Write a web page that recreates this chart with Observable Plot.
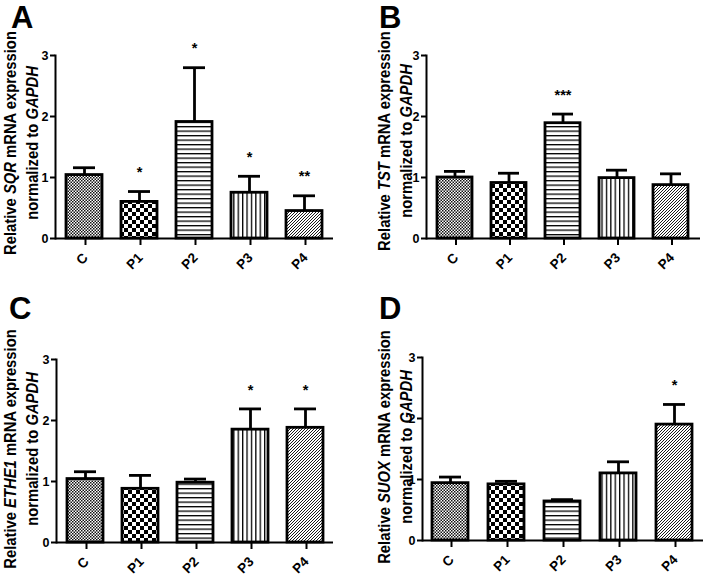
<!DOCTYPE html>
<html>
<head>
<meta charset="utf-8">
<script src="https://cdn.jsdelivr.net/npm/d3@7"></script>
<script src="https://cdn.jsdelivr.net/npm/@observablehq/plot@0.6"></script>
<style>
  html, body { margin: 0; padding: 0; background: white; }
  #wrap { position: relative; width: 709px; height: 578px; background: white; overflow: hidden;
          font-family: "Liberation Sans", Arial, Helvetica, sans-serif; color: black; }
  .panel { position: absolute; }
  .letter { position: absolute; font-size: 31px; font-weight: bold; line-height: 1; }
  .ylab { position: absolute; width: 290px; height: 44px; font-size: 17px; font-weight: bold;
          line-height: 22px; text-align: center; transform: rotate(-90deg) scaleX(0.87); transform-origin: 50% 50%; white-space: nowrap; }
</style>
</head>
<body>
<svg width="0" height="0" style="position:absolute">
  <defs>
    <pattern id="patC" width="3" height="3" patternUnits="userSpaceOnUse">
      <rect width="3" height="3" fill="#fff"/>
      <rect x="0" y="0" width="1.5" height="1.5" fill="#111"/>
      <rect x="1.5" y="1.5" width="1.5" height="1.5" fill="#111"/>
    </pattern>
    <pattern id="patP1" width="8" height="8" patternUnits="userSpaceOnUse">
      <rect width="8" height="8" fill="#fff"/>
      <rect x="0" y="0" width="4" height="4" fill="#000"/>
      <rect x="4" y="4" width="4" height="4" fill="#000"/>
    </pattern>
    <pattern id="patP2" width="10" height="4.5" patternUnits="userSpaceOnUse">
      <rect width="10" height="4.5" fill="#fff"/>
      <rect x="0" y="0" width="10" height="1.3" fill="#000"/>
    </pattern>
    <pattern id="patP3" width="4.4" height="10" patternUnits="userSpaceOnUse">
      <rect width="4.4" height="10" fill="#fff"/>
      <rect x="0" y="0" width="1.3" height="10" fill="#000"/>
    </pattern>
    <pattern id="patP4" width="3" height="3" patternUnits="userSpaceOnUse">
      <rect width="3" height="3" fill="#fff"/>
      <path d="M-1,1 L1,-1 M0,3 L3,0 M2,4 L4,2" stroke="#000" stroke-width="0.9"/>
    </pattern>
  </defs>
</svg>
<div id="wrap"></div>
<script>
// ---- data ----
const categories = ["C", "P1", "P2", "P3", "P4"];

// Panel A: SQR
const sqrMean  = [1.04, 0.60, 1.91, 0.75, 0.45];
const sqrUpper = [1.16, 0.77, 2.80, 1.02, 0.70];
const sqrStars = ["", "*", "*", "*", "**"];

// Panel B: TST
const tstMean  = [1.00, 0.91, 1.89, 0.99, 0.875];
const tstUpper = [1.10, 1.07, 2.04, 1.12, 1.06];
const tstStars = ["", "", "***", "", ""];

// Panel C: ETHE1
const etheMean  = [1.04, 0.88, 0.98, 1.85, 1.88];
const etheUpper = [1.16, 1.10, 1.04, 2.19, 2.19];
const etheStars = ["", "", "", "*", "*"];

// Panel D: SUOX
const suoxMean  = [0.94, 0.92, 0.64, 1.10, 1.90];
const suoxUpper = [1.04, 0.97, 0.67, 1.29, 2.23];
const suoxStars = ["", "", "", "", "*"];

const yTicks = [0, 1, 2, 3];
const panelLetters = ["A", "B", "C", "D"];
const genes = ["SQR", "TST", "ETHE1", "SUOX"];
const reference = "GAPDH";

// ---- styles ----
const patterns = ["url(#patC)", "url(#patP1)", "url(#patP2)", "url(#patP3)", "url(#patP4)"];

const panels = [
  {mean: sqrMean,  upper: sqrUpper,  stars: sqrStars,  left: 0,   top: 0,   w: 354, h: 290, mL: 55, mR: 21, mT: 55, mB: 52,
   letter: {x: 11, y: 2},   ylab: {cx: 22, cy: 143}},
  {mean: tstMean,  upper: tstUpper,  stars: tstStars,  left: 355, top: 0,   w: 354, h: 290, mL: 71, mR: 9,  mT: 55, mB: 52,
   letter: {x: 379, y: 2},  ylab: {cx: 396, cy: 141}},
  {mean: etheMean, upper: etheUpper, stars: etheStars, left: 0,   top: 290, w: 354, h: 288, mL: 56, mR: 21, mT: 69, mB: 36,
   letter: {x: 9, y: 293},  ylab: {cx: 22, cy: 449}},
  {mean: suoxMean, upper: suoxUpper, stars: suoxStars, left: 355, top: 290, w: 354, h: 288, mL: 67, mR: 6,  mT: 67, mB: 38,
   letter: {x: 379, y: 293}, ylab: {cx: 396, cy: 447}}
];

const wrap = document.getElementById("wrap");

panels.forEach((p, k) => {
  const data = categories.map((c, i) => ({cat: c, mean: p.mean[i], upper: p.upper[i], star: p.stars[i]}));
  const chart = Plot.plot({
    width: p.w, height: p.h,
    marginLeft: p.mL, marginRight: p.mR, marginTop: p.mT, marginBottom: p.mB,
    style: {fontFamily: "'Liberation Sans', Arial, Helvetica, sans-serif", fontSize: "12px", fontWeight: "bold", color: "black", background: "white", overflow: "visible"},
    x: {domain: categories, paddingInner: 0.35, paddingOuter: 0.175, label: null},
    y: {domain: [0, 3], label: null},
    color: {domain: categories, range: patterns},
    marks: [
      Plot.ruleX(data, {x: "cat", y1: "mean", y2: "upper", stroke: "black", strokeWidth: 2.8}),
      Plot.tickY(data, {x: "cat", y: "upper", stroke: "black", strokeWidth: 2.8, insetLeft: 7, insetRight: 7}),
      Plot.barY(data, {x: "cat", y: "mean", fill: "cat", stroke: "black", strokeWidth: 2.8}),
      Plot.text(data.filter(d => d.star), {x: "cat", y: "upper", text: "star", fontSize: 14.5, fontWeight: "bold", dy: -19}),
      Plot.ruleY([0], {stroke: "black", strokeWidth: 2}),
      Plot.frame({anchor: "left", stroke: "black", strokeWidth: 2}),
      Plot.axisY({ticks: yTicks, tickFormat: d => String(d), tickSize: 5, tickPadding: 2, strokeWidth: 2, fontSize: 12.5, fontWeight: "bold", label: null}),
      Plot.axisX({tickSize: 7, tickPadding: 10, tickRotate: -45, strokeWidth: 2, fontSize: 13.5, fontWeight: "bold", dx: 1, label: null})
    ]
  });
  chart.classList.add("panel");
  chart.style.left = p.left + "px";
  chart.style.top = p.top + "px";
  wrap.appendChild(chart);

  const L = document.createElement("div");
  L.className = "letter";
  L.style.left = p.letter.x + "px";
  L.style.top = p.letter.y + "px";
  L.textContent = panelLetters[k];
  wrap.appendChild(L);

  const Y = document.createElement("div");
  Y.className = "ylab";
  Y.style.left = (p.ylab.cx - 145) + "px";
  Y.style.top = (p.ylab.cy - 22) + "px";
  Y.innerHTML = "Relative <i>" + genes[k] + "</i> mRNA expression<br>normalized to <i>" + reference + "</i>";
  wrap.appendChild(Y);
});
</script>
</body>
</html>
